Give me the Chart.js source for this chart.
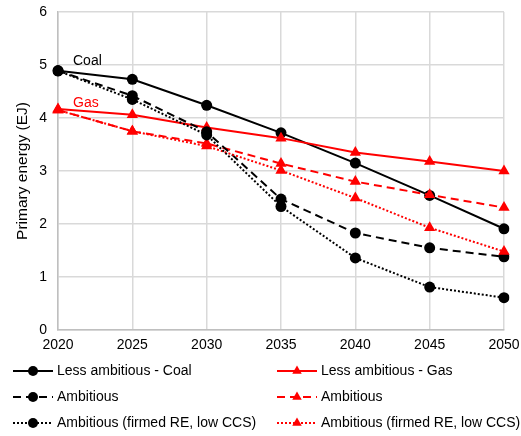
<!DOCTYPE html>
<html><head><meta charset="utf-8">
<script src="https://cdn.jsdelivr.net/npm/chart.js@4"></script>
<style>html,body{margin:0;padding:0;background:#fff}#wrap{width:521px;height:436px;position:relative}</style>
</head><body><div id="wrap"><canvas id="c" width="521" height="436"></canvas></div>
<script>
const years = ['2020','2025','2030','2035','2040','2045','2050'];
const coalLess = [4.89, 4.73, 4.24, 3.72, 3.15, 2.54, 1.91];
const gasLess = [4.17, 4.06, 3.82, 3.62, 3.35, 3.18, 3.00];
const coalAmb = [4.89, 4.42, 3.74, 2.47, 1.83, 1.55, 1.38];
const gasAmb = [4.15, 3.75, 3.52, 3.14, 2.80, 2.55, 2.31];
const coalFirm = [4.89, 4.35, 3.68, 2.33, 1.36, 0.81, 0.61];
const gasFirm = [4.15, 3.75, 3.47, 3.01, 2.49, 1.93, 1.48];
const yTicks = [0,1,2,3,4,5,6];
const legendNames = ['Less ambitious - Coal','Less ambitious - Gas','Ambitious','Ambitious','Ambitious (firmed RE, low CCS)','Ambitious (firmed RE, low CCS)'];
const FONT = '"Liberation Sans", Arial, sans-serif';

const solid = [], dashed = [8,5], dotted = [2,2];
function ds(label, data, color, dash, style){
  return {label, data, borderColor:color, backgroundColor:color, borderWidth:2, borderDash:dash,
    pointStyle:style, pointRadius: style==='circle'?5.5:6.5, pointHoverRadius: style==='circle'?5.5:6.5,
    pointBorderWidth:0, pointBackgroundColor:color, tension:0, fill:false};
}
const datasets = [
  ds(legendNames[4], coalFirm, '#000', dotted, 'circle'),
  ds(legendNames[5], gasFirm, '#ff0000', dotted, 'triangle'),
  ds(legendNames[2], coalAmb, '#000', dashed, 'circle'),
  ds(legendNames[3], gasAmb, '#ff0000', dashed, 'triangle'),
  ds(legendNames[1], gasLess, '#ff0000', solid, 'triangle'),
  ds(legendNames[0], coalLess, '#000', solid, 'circle'),
];
const legendOrder = [5,4,2,3,0,1];

function marker(ctx, style, r, x, y, color){
  ctx.save(); ctx.setLineDash([]); ctx.fillStyle = color; ctx.beginPath();
  if(style==='circle'){ ctx.arc(x,y,r,0,Math.PI*2); }
  else { let a=0; ctx.moveTo(x+Math.sin(a)*r, y-Math.cos(a)*r); a+=2*Math.PI/3; ctx.lineTo(x+Math.sin(a)*r, y-Math.cos(a)*r); a+=2*Math.PI/3; ctx.lineTo(x+Math.sin(a)*r, y-Math.cos(a)*r); ctx.closePath(); }
  ctx.fill(); ctx.restore();
}

const extras = {
  id:'extras',
  afterDraw(chart){
    const ctx = chart.ctx;
    const xs = chart.scales.x, ys = chart.scales.y;
    ctx.save();
    ctx.font = '14px ' + FONT; ctx.textBaseline='middle'; ctx.textAlign='left';
    ctx.fillStyle = '#000';
    ctx.fillText('Coal', xs.getPixelForValue(0)+15, ys.getPixelForValue(coalLess[0])-10);
    ctx.fillStyle = '#ff0000';
    ctx.fillText('Gas', xs.getPixelForValue(0)+15, ys.getPixelForValue(gasLess[0])-6);
    // legend
    const cols = [13, 277], rows = [371, 397, 423];
    legendOrder.forEach((di, i) => {
      const d = datasets[di];
      const x0 = cols[i%2], y = rows[Math.floor(i/2)];
      ctx.save();
      ctx.strokeStyle = d.borderColor; ctx.lineWidth = 2; ctx.setLineDash(d.borderDash);
      ctx.beginPath(); ctx.moveTo(x0, y); ctx.lineTo(x0+40, y); ctx.stroke();
      ctx.restore();
      marker(ctx, d.pointStyle, d.pointStyle==='circle'?5:5.5, x0+20, y, d.borderColor);
      ctx.fillStyle = '#000';
      ctx.fillText(d.label, x0+44, y);
    });
    ctx.restore();
  }
};

new Chart(document.getElementById('c'), {
  type:'line',
  data:{labels:years, datasets},
  options:{
    responsive:false, animation:false, devicePixelRatio:1,
    layout:{padding:{left:0, right:17, top:12, bottom:86}},
    plugins:{legend:{display:false}, tooltip:{enabled:false}},
    scales:{
      x:{offset:false, grid:{color:'#d9d9d9', lineWidth:1.5, drawTicks:false}, border:{color:'#bfbfbf', width:1.5},
         ticks:{color:'#000', font:{family:FONT, size:14}, padding:7, maxRotation:0},
         afterFit(s){ s.height = 20; s.paddingLeft = 0; s.paddingRight = 0; }},
      y:{min:0, max:6, grid:{color:'#d9d9d9', lineWidth:1.5, drawTicks:false}, border:{color:'#bfbfbf', width:1.5},
         afterBuildTicks(s){ s.ticks = yTicks.map(v=>({value:v})); },
         ticks:{color:'#000', font:{family:FONT, size:14}, padding:11},
         title:{display:true, text:'Primary energy (EJ)', color:'#000', font:{family:FONT, size:15.5}, padding:{top:13,bottom:0}},
         afterFit(s){ s.width = 58; s.paddingTop = 0; s.paddingBottom = 0; }}
    }
  },
  plugins:[extras]
});
</script></body></html>
